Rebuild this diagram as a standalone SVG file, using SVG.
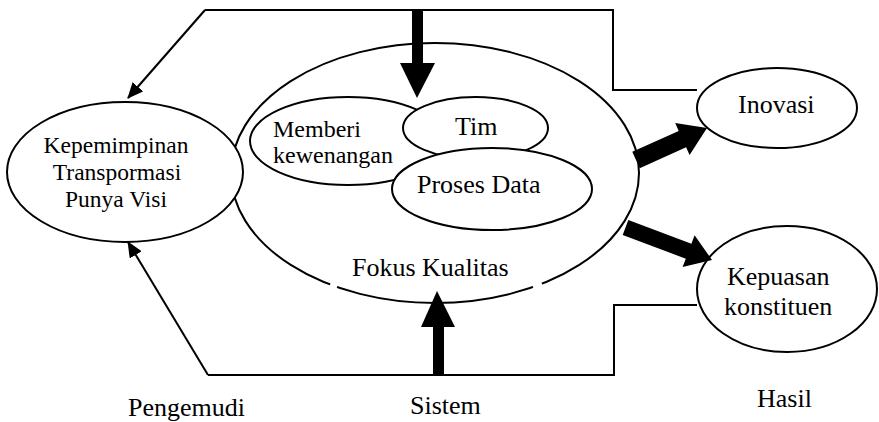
<svg xmlns="http://www.w3.org/2000/svg" width="879" height="422" viewBox="0 0 879 422">
<defs>
<style>
.el{fill:#fff;stroke:#000;stroke-width:2}
.ln{fill:none;stroke:#000;stroke-width:2}
.t{font-family:"Liberation Serif","Times New Roman",serif;fill:#000;font-size:26px}
.blk{fill:#000;stroke:none}
</style>
<marker id="ah" markerUnits="userSpaceOnUse" markerWidth="16" markerHeight="14" refX="15" refY="7" orient="auto">
<path d="M0,0 L16,7 L0,14 z" fill="#000"/>
</marker>
</defs>
<rect width="879" height="422" fill="#fff"/>
<g id="fokus">
<ellipse class="el" cx="435" cy="173" rx="204" ry="130"/>
<line x1="330" y1="284.6" x2="337" y2="287.2" stroke="#fff" stroke-width="4"/>
<line x1="533" y1="287.2" x2="542" y2="283.9" stroke="#fff" stroke-width="4"/>
<text class="t" x="352" y="276">Fokus Kualitas</text>
</g>
<g id="kepemimpinan">
<ellipse class="el" cx="125" cy="172" rx="118" ry="70"/>
<text class="t" style="font-size:23.5px" text-anchor="middle"><tspan x="116" y="153">Kepemimpinan</tspan><tspan x="117" y="180">Transpormasi</tspan><tspan x="116" y="207">Punya Visi</tspan></text>
</g>
<g id="memberi">
<ellipse class="el" cx="348" cy="141" rx="98" ry="44"/>
<text class="t" style="font-size:24px"><tspan x="273" y="137">Memberi</tspan><tspan x="273" y="163">kewenangan</tspan></text>
</g>
<g id="tim">
<ellipse class="el" cx="475.5" cy="128" rx="72.5" ry="31"/>
<text class="t" x="455" y="135">Tim</text>
</g>
<g id="proses">
<ellipse class="el" cx="492" cy="189" rx="100" ry="41"/>
<text class="t" x="417" y="193">Proses Data</text>
</g>
<g id="inovasi">
<ellipse class="el" cx="777" cy="108" rx="80" ry="40"/>
<text class="t" x="738" y="113">Inovasi</text>
</g>
<g id="kepuasan">
<ellipse class="el" cx="787" cy="289" rx="90" ry="63"/>
<text class="t"><tspan x="727" y="285">Kepuasan</tspan><tspan x="724" y="315">konstituen</tspan></text>
</g>
<g id="connectors">
<polyline class="ln" points="205,10 613,10 613,90 697,90"/>
<line class="ln" x1="205" y1="10" x2="128" y2="98" marker-end="url(#ah)"/>
<polyline class="ln" points="208,375 614,375 614,305 697,305"/>
<line class="ln" x1="208" y1="375" x2="128" y2="242" marker-end="url(#ah)"/>
<rect class="blk" x="412" y="9" width="11" height="55"/>
<polygon class="blk" points="400,63 435,63 417,98"/>
<rect class="blk" x="433" y="326" width="11" height="49"/>
<polygon class="blk" points="421,327 455,327 437,291"/>
<polygon class="blk" points="632.3,151.8 678.7,130.9 675.2,123.1 707,128 689.6,155.1 686.1,147.3 639.7,168.2"/>
<polygon class="blk" points="628.3,220 691.4,243.7 694.6,235.3 712,260 682.6,267.1 685.8,258.7 622.7,235"/>
</g>
<g id="labels">
<text class="t" x="128" y="416">Pengemudi</text>
<text class="t" x="410" y="414">Sistem</text>
<text class="t" x="757" y="407">Hasil</text>
</g>
</svg>
